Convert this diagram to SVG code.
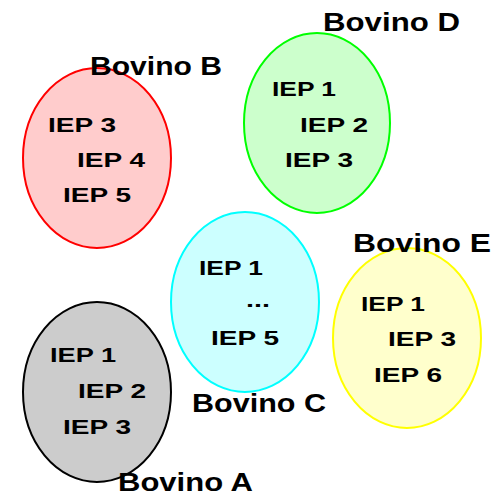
<svg xmlns="http://www.w3.org/2000/svg" width="504" height="504" viewBox="0 0 504 504">
<style>
.e{stroke-width:2}
.t{font-family:"Liberation Sans","DejaVu Sans",sans-serif;font-weight:bold;fill:#000}
.i{font-size:21px}
.l{font-size:26px}
</style>
<rect width="504" height="504" fill="#fff"/>
<g id="bovinoA">
<ellipse class="e" cx="97" cy="392" rx="74" ry="90" fill="#cccccc" stroke="#000"/>
<text class="t i" x="50" y="362" textLength="66" lengthAdjust="spacingAndGlyphs">IEP 1</text>
<text class="t i" x="78" y="398" textLength="68" lengthAdjust="spacingAndGlyphs">IEP 2</text>
<text class="t i" x="63" y="434" textLength="68" lengthAdjust="spacingAndGlyphs">IEP 3</text>
<text class="t l" x="118" y="491" textLength="135" lengthAdjust="spacingAndGlyphs">Bovino A</text>
</g>
<g id="bovinoB">
<ellipse class="e" cx="97" cy="158" rx="74" ry="90" fill="#ffcccc" stroke="#ff0000"/>
<text class="t i" x="48" y="132" textLength="68" lengthAdjust="spacingAndGlyphs">IEP 3</text>
<text class="t i" x="77" y="167" textLength="68" lengthAdjust="spacingAndGlyphs">IEP 4</text>
<text class="t i" x="63" y="202" textLength="68" lengthAdjust="spacingAndGlyphs">IEP 5</text>
<text class="t l" x="90" y="75" textLength="132" lengthAdjust="spacingAndGlyphs">Bovino B</text>
</g>
<g id="bovinoC">
<ellipse class="e" cx="245" cy="302" rx="74" ry="90" fill="#ccffff" stroke="#00ffff"/>
<text class="t i" x="199" y="275" textLength="64" lengthAdjust="spacingAndGlyphs">IEP 1</text>
<text class="t i" x="246" y="307" textLength="24" lengthAdjust="spacingAndGlyphs">...</text>
<text class="t i" x="211" y="345" textLength="68" lengthAdjust="spacingAndGlyphs">IEP 5</text>
<text class="t l" x="192" y="412" textLength="134" lengthAdjust="spacingAndGlyphs">Bovino C</text>
</g>
<g id="bovinoD">
<ellipse class="e" cx="317" cy="123" rx="73" ry="90" fill="#ccffcc" stroke="#00ff00"/>
<text class="t i" x="272" y="96" textLength="64" lengthAdjust="spacingAndGlyphs">IEP 1</text>
<text class="t i" x="300" y="132" textLength="68" lengthAdjust="spacingAndGlyphs">IEP 2</text>
<text class="t i" x="285" y="167" textLength="68" lengthAdjust="spacingAndGlyphs">IEP 3</text>
<text class="t l" x="323" y="31" textLength="137" lengthAdjust="spacingAndGlyphs">Bovino D</text>
</g>
<g id="bovinoE">
<ellipse class="e" cx="407" cy="338" rx="74" ry="90" fill="#ffffcc" stroke="#ffff00"/>
<text class="t i" x="361" y="311" textLength="64" lengthAdjust="spacingAndGlyphs">IEP 1</text>
<text class="t i" x="388" y="346" textLength="68" lengthAdjust="spacingAndGlyphs">IEP 3</text>
<text class="t i" x="374" y="382" textLength="68" lengthAdjust="spacingAndGlyphs">IEP 6</text>
<text class="t l" x="353" y="252" textLength="138" lengthAdjust="spacingAndGlyphs">Bovino E</text>
</g>
<g id="connectors"/>
</svg>
